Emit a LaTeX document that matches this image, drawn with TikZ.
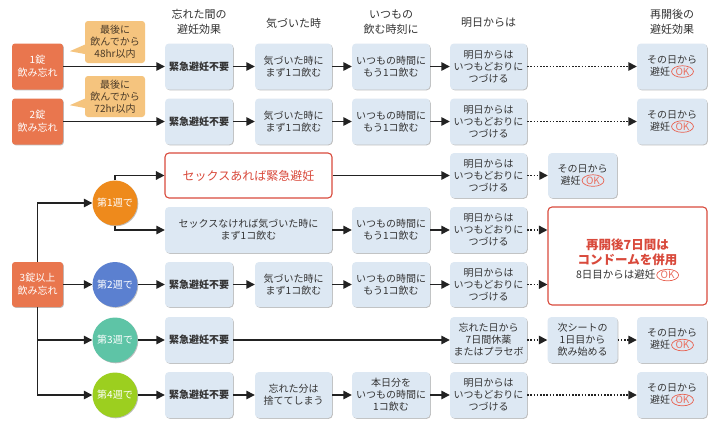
\documentclass[tikz,border=0pt]{standalone}
\usepackage{fontspec}
\setmainfont{Noto Sans CJK JP}
\usetikzlibrary{arrows.meta,shapes.geometric,shadows,calc}
\definecolor{orbox}{HTML}{E9764E}
\definecolor{callfill}{HTML}{F5C47E}
\definecolor{calltext}{HTML}{4A3A28}
\definecolor{bluebox}{HTML}{DDE8F3}
\definecolor{txt}{HTML}{333333}
\definecolor{redc}{HTML}{D94A3C}
\definecolor{okred}{HTML}{E8604F}
\definecolor{wk1}{HTML}{EE8A1C}
\definecolor{wk2}{HTML}{5B80D0}
\definecolor{wk3}{HTML}{5EC4A6}
\definecolor{wk4}{HTML}{9CCF1F}
\definecolor{arrc}{HTML}{222222}
\newcommand{\okm}{\hspace{1pt}\tikz[baseline=(okn.base)]\node[draw=okred, fill=none, minimum width=0pt, minimum height=0pt, rounded corners=0pt, line width=0.7pt, ellipse, inner xsep=0.8pt, inner ysep=0.3pt, text=okred!90, font=\fontsize{10}{10}\selectfont\mdseries](okn){OK};}
\begin{document}
\begin{tikzpicture}[x=1pt,y=-1pt,
  bx/.style={fill=bluebox, rounded corners=4pt, minimum width=77pt, minimum height=46pt, inner sep=1pt, align=center, text=txt, font=\fontsize{10}{12}\selectfont, drop shadow={shadow xshift=0.8pt, shadow yshift=-0.8pt, opacity=0.25, fill=black}},
  orb/.style={fill=orbox, rounded corners=3pt, minimum width=51pt, minimum height=46pt, inner sep=1pt, align=center, text=white, font=\fontsize{10}{13}\selectfont, drop shadow={shadow xshift=0.8pt, shadow yshift=-0.8pt, opacity=0.25, fill=black}},
  callb/.style={fill=callfill, rounded corners=3pt, minimum width=60pt, minimum height=42pt, inner sep=1pt, align=center, text=calltext, font=\fontsize{10}{12}\selectfont},
  redb/.style={fill=white, draw=redc, line width=1.1pt, rounded corners=4pt, align=center, inner sep=1pt},
  wk/.style={circle, minimum size=45pt, inner sep=0pt, text=white, font=\fontsize{10}{12}\selectfont, drop shadow={shadow xshift=0.8pt, shadow yshift=-0.8pt, opacity=0.25, fill=black}},
  hdr/.style={align=center, text=txt, font=\fontsize{11}{15}\selectfont},
  arr/.style={draw=arrc, line width=1.4pt, -{Triangle[length=8.5pt,width=8.5pt]}},
  darr/.style={draw=arrc, line width=1.5pt, dash pattern=on 1.5pt off 1.7pt, -{Triangle[length=8.5pt,width=8.5pt]}}
]
\useasboundingbox[fill=white] (0,0) rectangle (718,429);

% headers
\node[hdr] (h1) at (199,22) {忘れた間の\\避妊効果};
\node[hdr] (h2) at (293.5,23) {気づいた時};
\node[hdr] (h3) at (391,22) {いつもの\\飲む時刻に};
\node[hdr] (h4) at (488.5,23) {明日からは};
\node[hdr] (h5) at (672,22) {再開後の\\避妊効果};

% row 1
\node[orb] (o1) at (37.5,66.5) {1錠\\飲み忘れ};
\node[callb] (k1) at (115,42) {最後に\\飲んでから\\48hr以内};
\fill[callfill] ($(k1.south west)+(1,-19)$) -- ($(k1.south west)+(1,-9)$) -- ($(k1.south west)+(-15,-12)$) -- cycle;
\node[bx, minimum width=68pt] (a1) at (199,66.5) {\bfseries 緊急避妊不要};
\node[bx] (b1) at (293.5,66.5) {気づいた時に\\まず1コ飲む};
\node[bx, minimum width=78pt] (d1) at (391,66.5) {いつもの時間に\\もう1コ飲む};
\node[bx] (e1) at (488.5,66.5) {明日からは\\いつもどおりに\\つづける};
\node[bx, minimum width=70pt] (f1) at (672,66.5) {その日から\\避妊\okm};

% row 2
\node[orb] (o2) at (37.5,121.5) {2錠\\飲み忘れ};
\node[callb, minimum height=41pt] (k2) at (115,96.5) {最後に\\飲んでから\\72hr以内};
\fill[callfill] ($(k2.south west)+(1,-19)$) -- ($(k2.south west)+(1,-9)$) -- ($(k2.south west)+(-15,-12)$) -- cycle;
\node[bx, minimum width=68pt] (a2) at (199,121.5) {\bfseries 緊急避妊不要};
\node[bx] (b2) at (293.5,121.5) {気づいた時に\\まず1コ飲む};
\node[bx, minimum width=78pt] (d2) at (391,121.5) {いつもの時間に\\もう1コ飲む};
\node[bx] (e2) at (488.5,121.5) {明日からは\\いつもどおりに\\つづける};
\node[bx, minimum width=70pt] (f2) at (672,121.5) {その日から\\避妊\okm};

% 3+ missed
\node[orb, minimum height=45pt] (q3) at (37.5,284.5) {3錠以上\\飲み忘れ};
\node[wk, fill=wk1] (c1) at (115,203) {第1週で};
\node[wk, fill=wk2] (c2) at (115,284.5) {第2週で};
\node[wk, fill=wk3] (c3) at (115,340) {第3週で};
\node[wk, fill=wk4] (c4) at (115,395) {第4週で};

% row 3
\node[redb, minimum width=167pt, minimum height=45pt, text=redc, font=\fontsize{12}{14}\selectfont] (sY) at (248.5,175.5) {セックスあれば緊急避妊};
\node[bx, minimum height=45pt] (e3) at (488.5,175.5) {明日からは\\いつもどおりに\\つづける};
\node[bx, minimum width=69pt, minimum height=45pt] (g3) at (582.5,175.5) {その日から\\避妊\okm};

% row 4
\node[bx, minimum width=167pt] (sN) at (248.5,230) {セックスなければ気づいた時に\\まず1コ飲む};
\node[bx, minimum width=78pt] (d4) at (391,230) {いつもの時間に\\もう1コ飲む};
\node[bx] (e4) at (488.5,230) {明日からは\\いつもどおりに\\つづける};
\node[redb, minimum width=159pt, minimum height=98pt] (R) at (627.5,256) {};
\node[align=center, text=redc, font=\fontsize{12.5}{15}\selectfont\bfseries, inner sep=0pt] (Rt) at (627.5,252) {再開後7日間は\\コンドームを併用};
\node[text=txt, font=\fontsize{10.5}{13}\selectfont, inner sep=0pt, anchor=north] (Rb) at ([yshift=-3pt]Rt.south) {8日目からは避妊\okm};

% row 5
\node[bx, minimum width=68pt, minimum height=45pt] (a5) at (199,284.5) {\bfseries 緊急避妊不要};
\node[bx, minimum height=45pt] (b5) at (293.5,284.5) {気づいた時に\\まず1コ飲む};
\node[bx, minimum width=78pt, minimum height=45pt] (d5) at (391,284.5) {いつもの時間に\\もう1コ飲む};
\node[bx, minimum height=45pt] (e5) at (488.5,284.5) {明日からは\\いつもどおりに\\つづける};

% row 6
\node[bx, minimum width=68pt] (a6) at (199,340) {\bfseries 緊急避妊不要};
\node[bx] (e6) at (488.5,340) {忘れた日から\\7日間休薬\\またはプラセボ};
\node[bx, minimum width=70pt] (g6) at (582.5,340) {次シートの\\1日目から\\飲み始める};
\node[bx, minimum width=70pt] (f6) at (672,340) {その日から\\避妊\okm};

% row 7
\node[bx, minimum width=68pt] (a7) at (199,395) {\bfseries 緊急避妊不要};
\node[bx] (b7) at (293.5,395) {忘れた分は\\捨ててしまう};
\node[bx, minimum width=78pt] (d7) at (391,395) {本日分を\\いつもの時間に\\1コ飲む};
\node[bx] (e7) at (488.5,395) {明日からは\\いつもどおりに\\つづける};
\node[bx, minimum width=70pt] (f7) at (672,395) {その日から\\避妊\okm};

% connectors rows 1-2
\foreach \r in {1,2}{
  \draw[arr] (o\r.east) -- (a\r.west);
  \draw[arr] (a\r.east) -- (b\r.west);
  \draw[arr] (b\r.east) -- (d\r.west);
  \draw[arr] (d\r.east) -- (e\r.west);
  \draw[darr] (e\r.east) -- (f\r.west);
}
% tree
\draw[arr] (q3.north) |- (c1.west);
\draw[arr] (q3.east) -- (c2.west);
\draw[arr] (q3.south) |- (c3.west);
\draw[arr] (q3.south) |- (c4.west);
\draw[arr] (c1.north) |- (sY.west);
\draw[arr] (c1.south) |- (sN.west);
% row 3
\draw[arr] (sY.east) -- (e3.west);
\draw[darr] (e3.east) -- (g3.west);
% row 4
\draw[arr] (sN.east) -- (d4.west);
\draw[arr] (d4.east) -- (e4.west);
\draw[darr] (e4.east) -- (e4.east -| R.west);
% row 5
\draw[arr] (c2.east) -- (a5.west);
\draw[arr] (a5.east) -- (b5.west);
\draw[arr] (b5.east) -- (d5.west);
\draw[arr] (d5.east) -- (e5.west);
\draw[darr] (e5.east) -- (e5.east -| R.west);
% row 6
\draw[arr] (c3.east) -- (a6.west);
\draw[arr] (a6.east) -- (e6.west);
\draw[darr] (e6.east) -- (g6.west);
\draw[darr] (g6.east) -- (f6.west);
% row 7
\draw[arr] (c4.east) -- (a7.west);
\draw[arr] (a7.east) -- (b7.west);
\draw[arr] (b7.east) -- (d7.west);
\draw[arr] (d7.east) -- (e7.west);
\draw[darr] (e7.east) -- (f7.west);
\end{tikzpicture}
\end{document}
